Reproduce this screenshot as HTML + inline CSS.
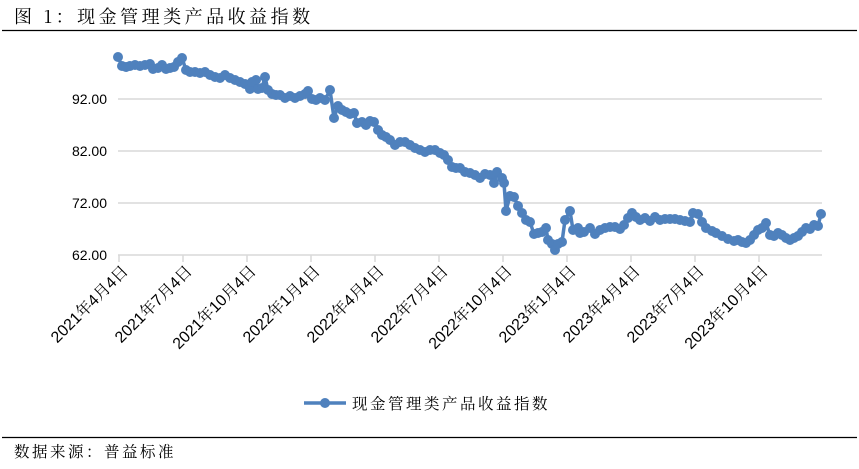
<!DOCTYPE html>
<html><head><meta charset="utf-8"><style>
html,body{margin:0;padding:0;background:#fff;}
body{width:859px;height:464px;overflow:hidden;}
</style></head><body>
<svg width="859" height="464" xmlns="http://www.w3.org/2000/svg" font-family="'Liberation Sans','Noto Serif CJK SC',sans-serif">
<text x="14" y="23" font-size="18" letter-spacing="3.5" font-family="'Noto Serif CJK SC','Noto Sans CJK SC',serif" fill="#000">图 1：现金管理类产品收益指数</text>
<line x1="2" y1="30.5" x2="857" y2="30.5" stroke="#000" stroke-width="1.2"/>
<g stroke="#d9d9d9" stroke-width="1.5">
<line x1="118" y1="99" x2="822" y2="99"/>
<line x1="118" y1="151" x2="822" y2="151"/>
<line x1="118" y1="203" x2="822" y2="203"/>
<line x1="118" y1="255" x2="822" y2="255"/>
<line x1="119" y1="255" x2="119" y2="262"/><line x1="183" y1="255" x2="183" y2="262"/><line x1="247" y1="255" x2="247" y2="262"/><line x1="311" y1="255" x2="311" y2="262"/><line x1="375" y1="255" x2="375" y2="262"/><line x1="439" y1="255" x2="439" y2="262"/><line x1="503" y1="255" x2="503" y2="262"/><line x1="567" y1="255" x2="567" y2="262"/><line x1="631" y1="255" x2="631" y2="262"/><line x1="695" y1="255" x2="695" y2="262"/><line x1="759" y1="255" x2="759" y2="262"/>
</g>
<g font-size="14" text-anchor="end" fill="#000">
<text x="107" y="104">92.00</text><text x="107" y="156">82.00</text><text x="107" y="208">72.00</text><text x="107" y="260">62.00</text>
</g>
<g font-size="16" text-anchor="end" fill="#000">
<text transform="translate(129,272) rotate(-45)">2021年4月4日</text>
<text transform="translate(193,272) rotate(-45)">2021年7月4日</text>
<text transform="translate(257,272) rotate(-45)">2021年10月4日</text>
<text transform="translate(321,272) rotate(-45)">2022年1月4日</text>
<text transform="translate(385,272) rotate(-45)">2022年4月4日</text>
<text transform="translate(449,272) rotate(-45)">2022年7月4日</text>
<text transform="translate(513,272) rotate(-45)">2022年10月4日</text>
<text transform="translate(577,272) rotate(-45)">2023年1月4日</text>
<text transform="translate(641,272) rotate(-45)">2023年4月4日</text>
<text transform="translate(705,272) rotate(-45)">2023年7月4日</text>
<text transform="translate(769,272) rotate(-45)">2023年10月4日</text>
</g>
<polyline id="s" fill="none" stroke="#4f81bd" stroke-width="3.5" stroke-linejoin="round" points="118,57 122,66 126,67 130,66 135,65 140,66 145,65 150,64 153,69 158,68 162,65 166,69 170,68 174,67 178,62 182,58 186,70 190,72 195,72 200,73 205,72 210,75 215,77 220,78 225,75 230,78 235,80 240,82 245,84 250,89 252,82 256,80 258,89 262,88 265,77 268,90 272,94 276,95 280,95 285,98 290,96 295,98 300,96 305,94 308,91 312,99 316,100 320,98 325,100 330,90 334,118 338,106 342,110 346,112 350,114 354,113 357,123 362,122 366,125 370,121 374,122 378,130 382,135 386,137 390,140 395,145 400,142 405,142 410,145 415,148 420,150 425,152 430,150 435,150 440,153 444,155 448,160 452,167 456,168 460,168 465,172 470,173 475,175 480,178 485,174 490,175 494,183 497,172 502,178 504,183 506,211 510,196 514,197 518,206 522,213 526,220 530,222 534,234 538,233 542,232 546,228 548,240 552,244 555,250 558,244 562,242 565,220 570,211 573,230 578,228 580,233 584,232 590,228 595,234 600,230 605,228 610,227 615,227 620,229 624,225 628,218 632,213 636,217 640,220 645,218 650,221 655,217 660,220 665,219 670,219 675,219 680,220 685,221 690,222 693,213 698,214 702,222 706,228 712,231 716,233 722,236 728,239 734,241 738,240 742,242 746,243 750,240 754,235 758,230 762,228 766,223 770,235 774,236 778,233 782,235 786,238 790,240 794,238 798,236 802,232 806,228 810,229 814,225 818,226 821,214"/>
<g id="m" fill="#4f81bd"></g>
<line x1="304" y1="403" x2="346" y2="403" stroke="#4f81bd" stroke-width="3.5"/>
<circle cx="325" cy="403" r="5" fill="#4f81bd"/>
<text x="352" y="409" font-size="15.5" letter-spacing="2.5" font-family="'Noto Serif CJK SC',serif" fill="#000">现金管理类产品收益指数</text>
<line x1="2" y1="437.5" x2="857" y2="437.5" stroke="#000" stroke-width="1.2"/>
<text x="14" y="457" font-size="15.5" letter-spacing="2.5" font-family="'Noto Serif CJK SC',serif" fill="#000">数据来源：普益标准</text>
</svg>
<script>
var p=document.getElementById('s').getAttribute('points').trim().split(/\s+/),g=document.getElementById('m'),h='';
p.forEach(function(q){var a=q.split(',');h+='<circle cx="'+a[0]+'" cy="'+a[1]+'" r="5"/>';});
g.innerHTML=h;
</script>
</body></html>
